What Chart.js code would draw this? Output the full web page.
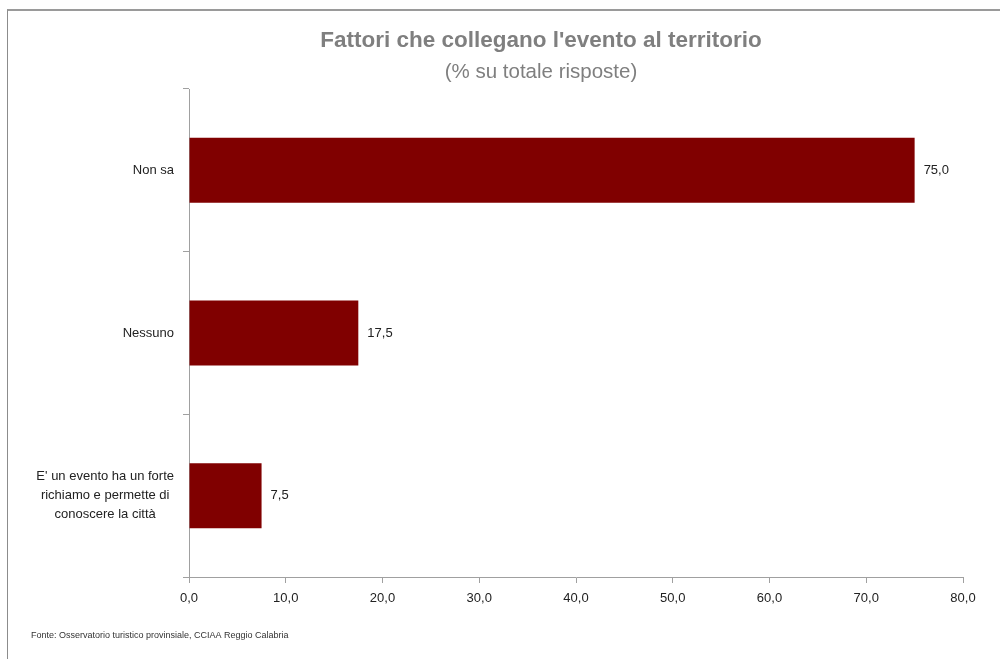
<!DOCTYPE html>
<html lang="it">
<head>
<meta charset="UTF-8">
<title>Fattori che collegano l'evento al territorio</title>
<script src="https://cdn.jsdelivr.net/npm/chart.js"></script>
<style>
  html, body { margin: 0; padding: 0; background: #fff; }
  #wrap { position: relative; width: 1000px; height: 659px; overflow: hidden; }
  #frame { position: absolute; left: 7px; top: 9px; width: 1100px; height: 700px;
           border-left: 1px solid #8c8c8c; border-top: 2px solid #9a9a9a; }
  canvas { position: absolute; left: 0; top: 0; }
</style>
</head>
<body>
<div id="wrap">
  <div id="frame"></div>
  <canvas id="chart" width="1000" height="659"></canvas>
</div>
<script>
// categorie e valori
const categories = [
  ['Non sa'],
  ['Nessuno'],
  ["E' un evento ha un forte", 'richiamo e permette di', 'conoscere la città']
]
const values = [75.0, 17.5, 7.5]
const xTicks = [0, 10, 20, 30, 40, 50, 60, 70, 80]

const titleText = "Fattori che collegano l'evento al territorio"
const subtitleText = '(% su totale risposte)'
const sourceText = 'Fonte: Osservatorio turistico provinsiale, CCIAA Reggio Calabria'

const fmt = v => Number(v).toFixed(1).replace('.', ',')
const FONT = "'Liberation Sans', Arial, sans-serif"

// titolo, etichette categorie, valori e fonte
const labelsPlugin = {
  id: 'labels',
  afterDraw(chart) {
    const { ctx, chartArea } = chart
    const yScale = chart.scales.y
    ctx.save()
    ctx.textBaseline = 'middle'
    ctx.textAlign = 'center'
    ctx.fillStyle = '#7f7f7f'
    ctx.font = 'bold 22.5px ' + FONT
    ctx.fillText(titleText, 541, 41)
    ctx.font = '20.5px ' + FONT
    ctx.fillText(subtitleText, 541, 72)

    ctx.font = '13px ' + FONT
    ctx.fillStyle = '#222'
    categories.forEach((lines, i) => {
      const y = yScale.getPixelForValue(i)
      const w = Math.max(...lines.map(l => ctx.measureText(l).width))
      const cx = chartArea.left - 15 - w / 2
      const lh = 19
      lines.forEach((l, j) => {
        ctx.fillText(l, cx, y + (j - (lines.length - 1) / 2) * lh)
      })
    })

    ctx.textAlign = 'left'
    chart.getDatasetMeta(0).data.forEach((bar, i) => {
      ctx.fillText(fmt(values[i]), bar.x + 9, bar.y)
    })

    ctx.font = '9px ' + FONT
    ctx.fillStyle = '#333'
    ctx.fillText(sourceText, 31, 636)
    ctx.restore()
  }
}

new Chart(document.getElementById('chart'), {
  type: 'bar',
  data: {
    labels: categories.map(c => c.join(' ')),
    datasets: [{
      data: values,
      backgroundColor: '#800000',
      borderWidth: 0,
      categoryPercentage: 1,
      barPercentage: 0.4
    }]
  },
  options: {
    indexAxis: 'y',
    responsive: false,
    animation: false,
    devicePixelRatio: 1,
    layout: { padding: { top: 89, left: 0, right: 37, bottom: 0 } },
    plugins: {
      legend: { display: false },
      tooltip: { enabled: false },
      title: { display: false }
    },
    scales: {
      x: {
        type: 'linear',
        min: 0,
        max: 80,
        afterBuildTicks: s => { s.ticks = xTicks.map(v => ({ value: v })) },
        afterFit: s => { s.height = 82 },
        border: { display: true, color: '#a0a0a0', width: 1 },
        grid: { drawOnChartArea: false, drawTicks: true, tickLength: 6, color: '#a0a0a0' },
        ticks: {
          color: '#222',
          padding: 8,
          font: { family: FONT, size: 13 },
          callback: v => fmt(v)
        }
      },
      y: {
        type: 'category',
        offset: true,
        afterFit: s => { s.width = 189 },
        border: { display: true, color: '#a0a0a0', width: 1 },
        grid: { offset: true, drawOnChartArea: false, drawTicks: true, tickLength: 6, color: '#a0a0a0' },
        ticks: { display: false }
      }
    }
  },
  plugins: [labelsPlugin]
})
</script>
</body>
</html>
